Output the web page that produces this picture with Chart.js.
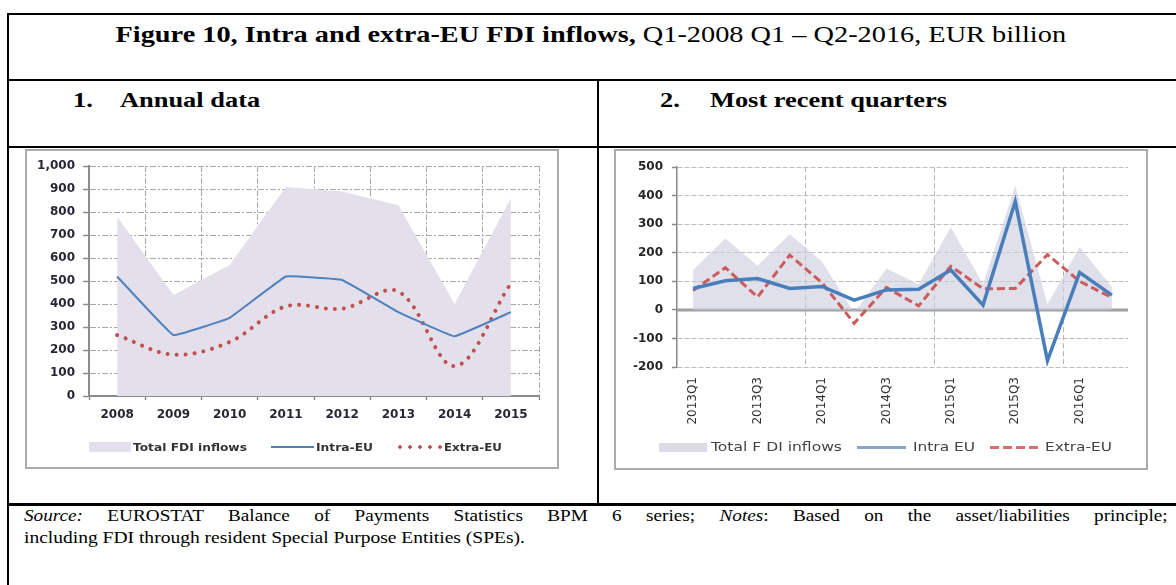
<!DOCTYPE html>
<html><head><meta charset="utf-8">
<script src="https://cdn.jsdelivr.net/npm/chart.js@4/dist/chart.umd.min.js"></script>
<style>
html,body{margin:0;padding:0;background:#fff;width:1176px;height:585px;overflow:hidden;position:relative;}
.ln{position:absolute;background:#000;}
.t{position:absolute;white-space:nowrap;font-family:"Liberation Serif","Times New Roman",serif;line-height:1;color:#000;transform-origin:0 0;}
.frame{position:absolute;box-sizing:border-box;border:2px solid #ababab;background:#fff;}
canvas{position:absolute;}
.lg{position:absolute;white-space:nowrap;font-family:"DejaVu Sans",sans-serif;line-height:1;transform-origin:0 50%;}
.sw{position:absolute;}
</style></head><body>
<!-- table lines -->
<div class="ln" style="left:7px;top:13px;width:1169px;height:2px"></div>
<div class="ln" style="left:7px;top:13px;width:2px;height:572px"></div>
<div class="ln" style="left:7px;top:79px;width:1169px;height:2px"></div>
<div class="ln" style="left:7px;top:146px;width:1169px;height:2px"></div>
<div class="ln" style="left:597px;top:80px;width:2px;height:424px"></div>
<div class="ln" style="left:7px;top:503px;width:1169px;height:3px"></div>

<div style="position:absolute;left:0;top:22px;width:1182px;text-align:center;">
  <span id="title" class="t" style="position:relative;display:inline-block;font-size:24px;transform:scaleX(1.18);transform-origin:50% 0;"><b>Figure 10, Intra and extra-EU FDI inflows,</b> Q1-2008 Q1 – Q2-2016, EUR billion</span>
</div>

<div class="t" style="left:73px;top:88.6px;font-size:22px;font-weight:bold;transform:scaleX(1.2)">1.</div>
<div class="t" style="left:120px;top:88.6px;font-size:22px;font-weight:bold;transform:scaleX(1.2)">Annual data</div>
<div class="t" style="left:660px;top:88.6px;font-size:22px;font-weight:bold;transform:scaleX(1.2)">2.</div>
<div class="t" style="left:710px;top:88.6px;font-size:22px;font-weight:bold;transform:scaleX(1.2)">Most recent quarters</div>

<div class="frame" style="left:25px;top:149px;width:534px;height:320px"></div>
<canvas id="c1" width="530" height="316" style="left:27px;top:151px"></canvas>
<div class="frame" style="left:614px;top:149px;width:534px;height:321px"></div>
<canvas id="c2" width="530" height="317" style="left:616px;top:151px"></canvas>

<!-- legends -->
<div class="sw" style="left:89px;top:442px;width:42px;height:10px;background:#e3dfeb"></div>
<div class="lg fit" data-w="114" style="left:133px;top:441.5px;font-size:11px;font-weight:bold;color:#333">Total FDI inflows</div>
<div class="sw" style="left:271px;top:446px;width:43px;height:2px;background:#4f81bd"></div>
<div class="lg fit" data-w="57" style="left:316px;top:441.5px;font-size:11px;font-weight:bold;color:#333">Intra-EU</div>
<div class="sw" style="left:395px;top:445px;width:48px;height:4px;background-image:radial-gradient(circle,#c0504d 1.5px,rgba(0,0,0,0) 2.1px);background-size:10px 4px;background-repeat:repeat-x"></div>
<div class="lg fit" data-w="58" style="left:444px;top:441.5px;font-size:11px;font-weight:bold;color:#333">Extra-EU</div>

<div class="sw" style="left:659px;top:443px;width:48px;height:9px;background:#dcdce6"></div>
<div class="lg fit" data-w="131" style="left:711px;top:441px;font-size:12px;color:#444">Total F DI inflows</div>
<div class="sw" style="left:857px;top:446px;width:49px;height:3px;background:#8aa3cc"></div>
<div class="lg fit" data-w="62" style="left:913px;top:441px;font-size:12px;color:#444">Intra EU</div>
<div class="sw" style="left:990px;top:446px;width:50px;height:3px;background-image:repeating-linear-gradient(to right,#d46f6f 0 9px,rgba(0,0,0,0) 9px 13px)"></div>
<div class="lg fit" data-w="67" style="left:1045px;top:441px;font-size:12px;color:#444">Extra-EU</div>

<div class="t" style="left:24px;top:507.6px;font-size:16px;width:953px;text-align:justify;text-align-last:justify;transform:scaleX(1.2)"><i>Source:</i> EUROSTAT Balance of Payments Statistics BPM 6 series; <i>Notes</i>: Based on the asset/liabilities principle;</div>
<div class="t" style="left:24px;top:529.6px;font-size:16px;transform:scaleX(1.22)">including FDI through resident Special Purpose Entities (SPEs).</div>

<script>
// ---- data: annual ----
const years = ['2008', '2009', '2010', '2011', '2012', '2013', '2014', '2015'];
const totalAnnual = [780, 440, 570, 910, 890, 830, 400, 860];
const intraAnnual = [520, 265, 340, 520, 505, 365, 260, 365];
const extraAnnual = [265, 180, 235, 390, 380, 455, 130, 490];

// ---- data: quarterly ----
const quarters = ['2013Q1', '2013Q2', '2013Q3', '2013Q4', '2014Q1', '2014Q2', '2014Q3', '2014Q4',
                  '2015Q1', '2015Q2', '2015Q3', '2015Q4', '2016Q1', '2016Q2'];
const totalQuarterly = [140, 250, 155, 265, 170, -10, 145, 90, 290, 90, 435, 20, 220, 80];
const intraQuarterly = [75, 102, 110, 75, 82, 34, 70, 72, 140, 17, 380, -178, 131, 52];
const extraQuarterly = [68, 148, 45, 192, 95, -47, 79, 14, 153, 74, 75, 194, 100, 43];

const annualTicks = [0, 1000, 100];
const quarterTicks = [-200, 500, 100];

Chart.defaults.font.family = '"DejaVu Sans", sans-serif';

new Chart(document.getElementById('c1'), {
  type: 'line',
  data: {
    labels: years,
    datasets: [
      {label: 'Total FDI inflows', data: totalAnnual, fill: 'origin', backgroundColor: '#e3dfeb',
       borderWidth: 0, pointRadius: 0, tension: 0, order: 3},
      {label: 'Intra-EU', data: intraAnnual, fill: false, borderColor: '#4f81bd', borderWidth: 2,
       pointRadius: 0, tension: 0.06, order: 1},
      {label: 'Extra-EU', data: extraAnnual, fill: false, borderColor: '#c0504d', borderWidth: 4,
       borderDash: [0.01, 9], borderCapStyle: 'round', pointRadius: 0, tension: 0.35, order: 2}
    ]
  },
  options: {
    responsive: false, animation: false,
    layout: {padding: {left: 0, top: 13, right: 18, bottom: 41}},
    plugins: {legend: {display: false}, tooltip: {enabled: false}},
    scales: {
      x: {
        offset: true,
        grid: {offset: true, color: '#a8a8a8', lineWidth: 1, tickLength: 4, tickColor: '#8c8c8c', tickWidth: 1.5},
        border: {display: true, color: '#8c8c8c', width: 2, dash: [6, 2, 2, 2]},
        ticks: {padding: 8, color: '#262636', font: {size: 12, weight: 'bold'}, autoSkip: false, maxRotation: 0},
        afterFit(s) { s.height = 30; }
      },
      y: {
        min: annualTicks[0], max: annualTicks[1],
        grid: {color: '#a8a8a8', lineWidth: 1, tickLength: 6, tickColor: '#8c8c8c', tickWidth: 1.5},
        border: {display: true, color: '#8c8c8c', width: 2, dash: [6, 2, 2, 2]},
        ticks: {stepSize: annualTicks[2], padding: 8, color: '#262636', font: {size: 12, weight: 'bold'},
                callback: v => v.toLocaleString('en-US')},
        afterFit(s) { s.width = 62; }
      }
    }
  }
});

const zeroLine = {
  id: 'zeroLine',
  beforeDatasetsDraw(chart) {
    const {ctx, chartArea: a, scales: {y}} = chart;
    const py = y.getPixelForValue(0);
    ctx.save();
    ctx.strokeStyle = '#a0a0a0';
    ctx.lineWidth = 3;
    ctx.beginPath();
    ctx.moveTo(a.left, py);
    ctx.lineTo(a.right, py);
    ctx.stroke();
    ctx.restore();
  }
};

new Chart(document.getElementById('c2'), {
  type: 'line',
  data: {
    labels: quarters,
    datasets: [
      {label: 'Total F DI inflows', data: totalQuarterly, fill: 'origin', backgroundColor: 'rgba(205,205,222,0.62)',
       borderWidth: 0, pointRadius: 0, tension: 0, order: 3},
      {label: 'Intra EU', data: intraQuarterly, fill: false, borderColor: '#4a7ebb', borderWidth: 3.5,
       pointRadius: 0, tension: 0, order: 1},
      {label: 'Extra-EU', data: extraQuarterly, fill: false, borderColor: '#cc5b5b', borderWidth: 3,
       borderDash: [8, 4], pointRadius: 0, tension: 0, order: 2}
    ]
  },
  options: {
    responsive: false, animation: false,
    layout: {padding: {left: 0, top: 13, right: 18, bottom: 41}},
    plugins: {legend: {display: false}, tooltip: {enabled: false}},
    scales: {
      x: {
        offset: true,
        grid: {offset: true, drawTicks: false, lineWidth: 1,
               color: c => (c.index === 4 || c.index === 8 || c.index === 12) ? '#b4b4b4' : 'rgba(0,0,0,0)'},
        border: {display: false, dash: [5, 3]},
        ticks: {padding: 10, color: '#333', font: {size: 12}, autoSkip: false, minRotation: 90, maxRotation: 90,
                callback: function(v, i) { return i % 2 === 0 ? this.getLabelForValue(v) : ''; }},
        afterFit(s) { s.height = 60; }
      },
      y: {
        min: quarterTicks[0], max: quarterTicks[1],
        grid: {color: '#bdbdbd', lineWidth: 1, tickLength: 5, tickColor: '#888', tickWidth: 1.5},
        border: {display: true, color: '#888', width: 1.5, dash: [5, 2]},
        ticks: {stepSize: quarterTicks[2], padding: 9, color: '#262626', font: {size: 12, weight: 'bold'}},
        afterFit(s) { s.width = 61; }
      }
    }
  },
  plugins: [zeroLine]
});

document.querySelectorAll('.fit').forEach(el => {
  const w = el.getBoundingClientRect().width;
  const target = parseFloat(el.dataset.w);
  el.style.transform = 'scaleX(' + (target / w).toFixed(3) + ')';
});
</script>
</body></html>
